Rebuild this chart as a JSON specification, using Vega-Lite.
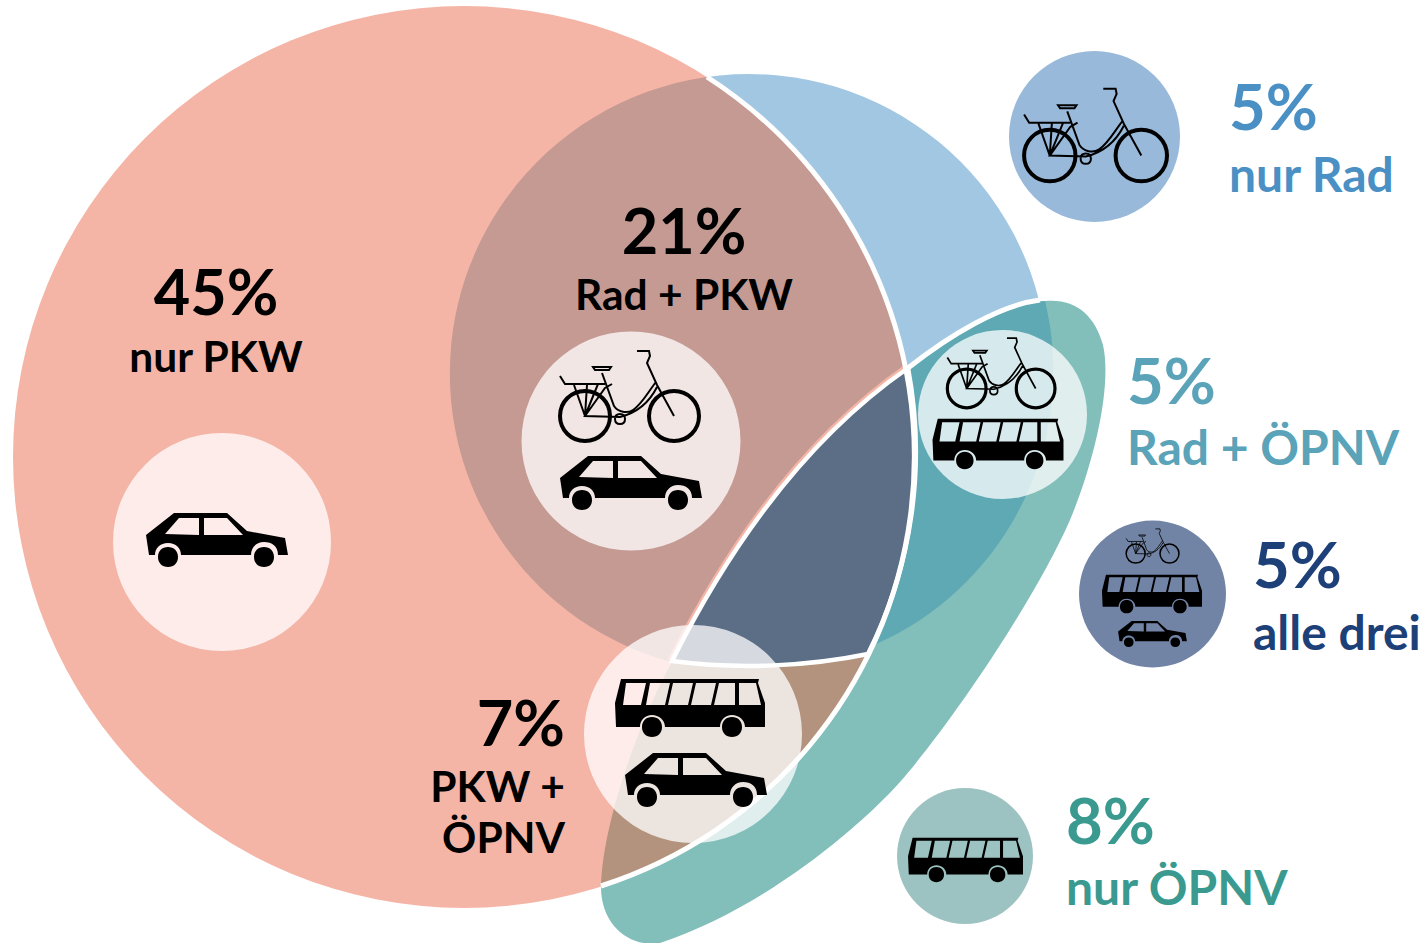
{"$schema":"https://vega.github.io/schema/vega-lite/v6.json","width":1426,"height":943,"padding":0,"autosize":{"type":"none"},"background":"white","config":{"view":{"stroke":null}},
"datasets":{
"regions":[{"region":"nur PKW","share":45,"x":464,"y":457},{"region":"nur Rad","share":5,"x":749,"y":373},{"region":"nur ÖPNV","share":8,"x":800,"y":600},{"region":"Rad + ÖPNV","share":5,"x":950,"y":450},{"region":"Rad + PKW","share":21,"x":700,"y":400},{"region":"PKW + ÖPNV","share":7,"x":700,"y":750},{"region":"alle drei","share":5,"x":800,"y":500}],
"medallions":[{"region":"nur PKW","x":222,"y":542},{"region":"Rad + PKW","x":631,"y":441},{"region":"PKW + ÖPNV","x":693,"y":734},{"region":"Rad + ÖPNV","x":1002.5,"y":414.5}],
"keys":[{"region":"nur Rad","x":1094.5,"y":136.5},{"region":"alle drei","x":1152.5,"y":594},{"region":"nur ÖPNV","x":965,"y":856}],
"cars":[{"region":"nur PKW","x":217,"y":540},{"region":"Rad + PKW","x":631,"y":483},{"region":"PKW + ÖPNV","x":696,"y":780},{"region":"alle drei","x":1152.5,"y":634}],
"buses":[{"region":"PKW + ÖPNV","x":690,"y":708},{"region":"Rad + ÖPNV","x":998,"y":444},{"region":"alle drei","x":1152,"y":594},{"region":"nur ÖPNV","x":965.5,"y":860}],
"bikes":[{"region":"Rad + PKW","x":628,"y":396},{"region":"Rad + ÖPNV","x":1000,"y":373},{"region":"nur Rad","x":1094,"y":135},{"region":"alle drei","x":1152,"y":546}],
"texts":[
{"text":"45%","kind":"pct","side":"center","region":"nur PKW","x":216,"y":315},
{"text":"nur PKW","kind":"label","side":"center","region":"nur PKW","x":216,"y":372},
{"text":"21%","kind":"pct","side":"center","region":"Rad + PKW","x":684,"y":254},
{"text":"Rad + PKW","kind":"label","side":"center","region":"Rad + PKW","x":684,"y":310},
{"text":"7%","kind":"pct","side":"right","region":"PKW + ÖPNV","x":565,"y":746},
{"text":"PKW +","kind":"label","side":"right","region":"PKW + ÖPNV","x":565,"y":802},
{"text":"ÖPNV","kind":"label","side":"right","region":"PKW + ÖPNV","x":565,"y":853},
{"text":"5%","kind":"pct","side":"left","region":"nur Rad","x":1229,"y":130},
{"text":"nur Rad","kind":"label","side":"left","region":"nur Rad","x":1229,"y":192},
{"text":"5%","kind":"pct","side":"left","region":"Rad + ÖPNV","x":1127,"y":404},
{"text":"Rad + ÖPNV","kind":"label","side":"left","region":"Rad + ÖPNV","x":1127,"y":465},
{"text":"5%","kind":"pct","side":"left","region":"alle drei","x":1253,"y":588},
{"text":"alle drei","kind":"label","side":"left","region":"alle drei","x":1253,"y":650},
{"text":"8%","kind":"pct","side":"left","region":"nur ÖPNV","x":1066,"y":844},
{"text":"nur ÖPNV","kind":"label","side":"left","region":"nur ÖPNV","x":1066,"y":905}
]},
"encoding":{
"x":{"field":"x","type":"quantitative","axis":null,"scale":{"domain":[0,1426],"nice":false,"zero":false}},
"y":{"field":"y","type":"quantitative","axis":null,"scale":{"domain":[943,0],"nice":false,"zero":false}}},
"resolve":{"scale":{"size":"independent","strokeWidth":"independent"}},
"layer":[
{"data":{"name":"regions"},"transform":[{"filter":"datum.region=='nur Rad'"}],"mark":{"type":"point","shape":"circle","filled":true,"opacity":1,"fill":"#a2c7e2","size":357604,"strokeWidth":0}},
{"data":{"name":"regions"},"transform":[{"filter":"datum.region=='nur ÖPNV'"}],"mark":{"type":"point","filled":true,"opacity":1,"fill":"#82bfbb","size":4,"strokeWidth":0,"shape":"M245,-299 C275,-302 295,-285 303,-255 C312,-215 295,-140 270,-80 C235,0 150,125 100,182 C55,232 -40,310 -140,343 C-170,348 -200,325 -199,285 C-197,220 -160,120 -128,60 C-85,-25 -10,-150 108,-232 C150,-265 200,-295 245,-299 Z"}},
{"data":{"name":"regions"},"transform":[{"filter":"datum.region=='Rad + ÖPNV'"}],"mark":{"type":"point","filled":true,"opacity":1,"fill":"#5ea9b3","size":4,"strokeWidth":0,"shape":"M-42,-82 C0,-115 50,-145 95,-149 A299,299 0 0 1 -76,195 L-80,50 Z"}},
{"data":{"name":"regions"},"transform":[{"filter":"datum.region=='nur PKW'"}],"mark":{"type":"point","shape":"circle","filled":true,"opacity":1,"fill":"#f5b5a6","size":813604,"strokeWidth":0}},
{"data":{"name":"regions"},"transform":[{"filter":"datum.region=='Rad + PKW'"}],"mark":{"type":"point","filled":true,"opacity":1,"fill":"#c59a93","size":4,"strokeWidth":0,"shape":"M7,-323 A299,299 0 0 0 -28,262 L174,245 A451,451 0 0 0 7,-323 Z"}},
{"data":{"name":"regions"},"transform":[{"filter":"datum.region=='alle drei'"}],"mark":{"type":"point","filled":false,"opacity":1,"stroke":"#f5b5a6","size":4,"strokeWidth":9,"shape":"M-128,161 C-85,75 -10,-50 108,-132"}},
{"data":{"name":"regions"},"transform":[{"filter":"datum.region=='PKW + ÖPNV'"}],"mark":{"type":"point","filled":true,"opacity":1,"fill":"#b3937d","size":4,"strokeWidth":0,"shape":"M168,-96 C110,-84 40,-80 -28,-88 C-60,-30 -97,70 -99,136 A451,451 0 0 0 168,-96 Z"}},
{"data":{"name":"regions"},"transform":[{"filter":"datum.region=='alle drei'"}],"mark":{"type":"point","filled":true,"opacity":1,"fill":"#5b6e85","stroke":"white","size":4,"strokeWidth":4.5,"shape":"M-128,161 C-85,75 -10,-50 108,-132 A451,451 0 0 1 68,154 C10,166 -60,170 -128,161 Z"}},
{"data":{"name":"regions"},"transform":[{"filter":"datum.region=='nur PKW'"}],"mark":{"type":"point","filled":false,"opacity":1,"stroke":"white","size":4,"strokeWidth":5,"shape":"M243,-380 A451,451 0 0 1 137,429"}},
{"data":{"name":"regions"},"transform":[{"filter":"datum.region=='Rad + ÖPNV'"}],"mark":{"type":"point","filled":false,"opacity":1,"stroke":"white","size":4,"strokeWidth":5,"shape":"M-42,-82 C0,-115 50,-145 90,-150"}},
{"data":{"name":"medallions"},"mark":{"type":"point","shape":"circle","filled":true,"opacity":0.75,"fill":"white","strokeWidth":0},"encoding":{"size":{"field":"region","type":"ordinal","legend":null,"scale":{"type":"ordinal","domain":["nur PKW","Rad + PKW","PKW + ÖPNV","Rad + ÖPNV"],"range":[47524,47961,47524,28561]}}}},
{"data":{"name":"keys"},"mark":{"type":"point","shape":"circle","filled":true,"opacity":1,"strokeWidth":0},"encoding":{"fill":{"field":"region","type":"nominal","legend":null,"scale":{"domain":["nur Rad","alle drei","nur ÖPNV"],"range":["#98b9d9","#7284a6","#9cc3c1"]}},"size":{"field":"region","type":"ordinal","legend":null,"scale":{"type":"ordinal","domain":["nur Rad","alle drei","nur ÖPNV"],"range":[29241,21609,18496]}}}},
{"data":{"name":"cars"},"mark":{"type":"point","filled":true,"opacity":1,"fill":"black","strokeWidth":0,"shape":"M-43,-27 L10,-27 L30,-9 L68,-2 L71,15 L61,15 C61,6 55,2 47,2 C39,2 34,8 34,15 L-36,15 C-36,8 -41,3 -49,3 C-57,3 -62,8 -62,15 L-68,15 L-71,-5 Z M-52,-6 L-18,-5 L-18,-22 L-38,-22 Z M-13,-5 L26,-5 L10,-22 L-13,-22 Z M-39,17 C-39,23 -43,27 -49,27 C-55,27 -59,23 -59,17 C-59,11 -55,7 -49,7 C-43,7 -39,11 -39,17 Z M57,17 C57,23 53,27 47,27 C41,27 37,23 37,17 C37,11 41,7 47,7 C53,7 57,11 57,17 Z"},"encoding":{"size":{"field":"region","type":"ordinal","legend":null,"scale":{"type":"ordinal","domain":["nur PKW","Rad + PKW","PKW + ÖPNV","alle drei"],"range":[4,4,4,0.94]}}}},
{"data":{"name":"buses"},"mark":{"type":"point","filled":true,"opacity":1,"fill":"black","strokeWidth":0,"shape":"M-69,-29 L69,-29 L68,-25 L75,-5 L75,19 L55,19 C55,12 49,7 42,7 C35,7 30,12 30,19 L-25,19 C-25,12 -31,7 -38,7 C-45,7 -50,12 -50,19 L-74,19 L-75,-5 Z M-67,-3 L-49,-3 L-44,-25 L-64,-25 Z M-44,-3 L-25,-3 L-20,-25 L-40,-25 Z M-22,-3 L-2,-3 L3,-25 L-17,-25 Z M1,-3 L21,-3 L26,-25 L6,-25 Z M24,-3 L45,-3 L45,-25 L29,-25 Z M49,-3 L71,-3 L66,-25 L49,-25 Z M-28,19 C-28,25 -32,29 -38,29 C-44,29 -48,25 -48,19 C-48,13 -44,9 -38,9 C-32,9 -28,13 -28,19 Z M52,19 C52,25 48,29 42,29 C36,29 32,25 32,19 C32,13 36,9 42,9 C48,9 52,13 52,19 Z"},"encoding":{"size":{"field":"region","type":"ordinal","legend":null,"scale":{"type":"ordinal","domain":["PKW + ÖPNV","Rad + ÖPNV","alle drei","nur ÖPNV"],"range":[4,3.05,1.78,2.35]}}}},
{"data":{"name":"bikes"},"mark":{"type":"point","filled":false,"opacity":1,"stroke":"black","shape":"M-18,20 C-18,34 -29,45 -43,45 C-57,45 -68,34 -68,20 C-68,6 -57,-5 -43,-5 C-29,-5 -18,6 -18,20 Z M71,20 C71,34 60,45 46,45 C32,45 21,34 21,20 C21,6 32,-5 46,-5 C60,-5 71,6 71,20 Z"},"encoding":{"size":{"field":"region","type":"ordinal","legend":null,"scale":{"type":"ordinal","domain":["Rad + PKW","Rad + ÖPNV","nur Rad","alle drei"],"range":[4,2.4,4.23,0.578]}},"strokeWidth":{"field":"region","type":"ordinal","legend":null,"scale":{"type":"ordinal","domain":["Rad + PKW","Rad + ÖPNV","nur Rad","alle drei"],"range":[4,3.2,4,1.5]}}}},
{"data":{"name":"bikes"},"mark":{"type":"point","filled":false,"opacity":1,"stroke":"black","shape":"M9,-45 L21,-45 L22,-40 L19,-33 L29,-11 L46,20 M28,-14 C20,-4 14,8 5,14 C-1,18 -10,16 -14,10 L-26,-23 M29,-9 C23,3 12,16 -8,21 L-43,20 L-23,-8 L-16,-12 M-68,-20 L-63,-12 L-23,-12 M-54,-11 L-43,20 L-41,-11 M-43,20 L-30,-12 M-35,-29 L-17,-29 L-19,-26 L-33,-26 Z M-3,23 C-3,26 -5,28 -8,28 C-11,28 -13,26 -13,23 C-13,20 -11,18 -8,18 C-5,18 -3,20 -3,23 Z"},"encoding":{"size":{"field":"region","type":"ordinal","legend":null,"scale":{"type":"ordinal","domain":["Rad + PKW","Rad + ÖPNV","nur Rad","alle drei"],"range":[4,2.4,4.23,0.578]}},"strokeWidth":{"field":"region","type":"ordinal","legend":null,"scale":{"type":"ordinal","domain":["Rad + PKW","Rad + ÖPNV","nur Rad","alle drei"],"range":[2,1.7,2,0.8]}}}},
{"data":{"name":"texts"},"transform":[{"filter":"datum.kind=='pct' && datum.side=='center'"}],"mark":{"type":"text","font":"Lato","fontWeight":"bold","fontSize":63,"align":"center","baseline":"alphabetic"},"encoding":{"text":{"field":"text"},"color":{"field":"region","type":"nominal","legend":null,"scale":{"domain":["nur PKW","Rad + PKW","PKW + ÖPNV","nur Rad","Rad + ÖPNV","alle drei","nur ÖPNV"],"range":["#000000","#000000","#000000","#4a90c4","#5aa3b8","#1e4078","#3a9a90"]}}}},
{"data":{"name":"texts"},"transform":[{"filter":"datum.kind=='label' && datum.side=='center'"}],"mark":{"type":"text","font":"Lato","fontWeight":"bold","fontSize":42.5,"align":"center","baseline":"alphabetic"},"encoding":{"text":{"field":"text"},"color":{"field":"region","type":"nominal","legend":null}}},
{"data":{"name":"texts"},"transform":[{"filter":"datum.kind=='pct' && datum.side=='right'"}],"mark":{"type":"text","font":"Lato","fontWeight":"bold","fontSize":63,"align":"right","baseline":"alphabetic"},"encoding":{"text":{"field":"text"},"color":{"field":"region","type":"nominal","legend":null}}},
{"data":{"name":"texts"},"transform":[{"filter":"datum.kind=='label' && datum.side=='right'"}],"mark":{"type":"text","font":"Lato","fontWeight":"bold","fontSize":42.5,"align":"right","baseline":"alphabetic"},"encoding":{"text":{"field":"text"},"color":{"field":"region","type":"nominal","legend":null}}},
{"data":{"name":"texts"},"transform":[{"filter":"datum.kind=='pct' && datum.side=='left'"}],"mark":{"type":"text","font":"Lato","fontWeight":"bold","fontSize":63.5,"align":"left","baseline":"alphabetic"},"encoding":{"text":{"field":"text"},"color":{"field":"region","type":"nominal","legend":null}}},
{"data":{"name":"texts"},"transform":[{"filter":"datum.kind=='label' && datum.side=='left'"}],"mark":{"type":"text","font":"Lato","fontWeight":"bold","fontSize":48,"align":"left","baseline":"alphabetic"},"encoding":{"text":{"field":"text"},"color":{"field":"region","type":"nominal","legend":null}}}
]}
